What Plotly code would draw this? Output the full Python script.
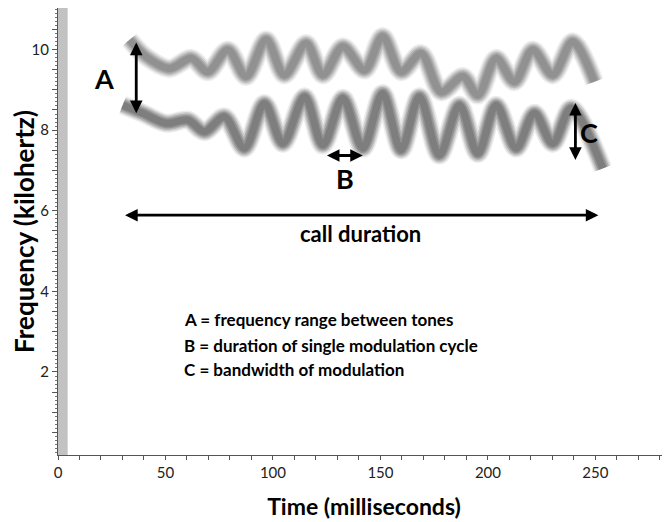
import plotly.graph_objects as go

# upper tone (time ms, frequency kHz) read at peaks/troughs
upper_t = [33.3, 41, 51.9, 62, 69.7, 79, 87.5, 96.8, 105.3, 115.4, 123.2, 132.5, 142.6, 151, 159.6, 168.9, 178.2, 188.3, 195.3, 203.8, 212.3, 220.8, 230.1, 239.4, 249.5]
upper_f = [10.24, 9.82, 9.53, 9.78, 9.45, 9.99, 9.33, 10.24, 9.37, 10.15, 9.37, 10.07, 9.49, 10.32, 9.45, 9.9, 8.95, 9.33, 8.87, 9.78, 9.2, 9.99, 9.37, 10.19, 9.2]

# lower tone
lower_t = [30.1, 39.4, 50.3, 60.4, 68.1, 77.4, 86.7, 96, 104.6, 114.7, 123.2, 132.5, 141.8, 151, 159.6, 168.1, 177.4, 186.7, 195.3, 203.8, 213.1, 221.6, 230.1, 238.7, 253.4]
lower_f = [8.62, 8.42, 8.17, 8.25, 7.96, 8.33, 7.55, 8.66, 7.67, 8.83, 7.63, 8.79, 7.55, 8.91, 7.51, 8.83, 7.38, 8.62, 7.42, 8.62, 7.55, 8.42, 7.67, 8.54, 7.05]

legend_lines = ["A = frequency range between tones",
                "B = duration of single modulation cycle",
                "C = bandwidth of modulation"]
legend_y = [3.29, 2.65, 2.05]

FONT = "Lato, Open Sans, sans-serif"

fig = go.Figure()

# blurred spectrogram strokes (layered translucent lines)
layers = [(19, 0.12), (16, 0.2), (13, 0.28), (10, 0.36), (7, 0.38)]
for t, f, g in [(upper_t, upper_f, 118), (lower_t, lower_f, 95)]:
    for w, a in layers:
        fig.add_trace(go.Scatter(x=t, y=f, mode="lines",
                                 line=dict(color=f"rgba({g},{g},{g},{a})", width=w,
                                           shape="spline", smoothing=0.9),
                                 hoverinfo="skip", showlegend=False))

# gray band at left edge
fig.add_shape(type="rect", x0=0, x1=4.5, y0=-0.06, y1=11.03, xref="x", yref="y",
              fillcolor="#c2c2c2", line=dict(width=0), layer="below")

arrow_kw = dict(xref="x", yref="y", axref="x", ayref="y", text="", showarrow=True,
                arrowhead=2, arrowsize=0.9, arrowwidth=2.8, arrowcolor="black",
                arrowside="end+start")
fig.add_annotation(x=36.4, y=8.42, ax=36.4, ay=10.21, **arrow_kw)       # A
fig.add_annotation(x=240.7, y=7.26, ax=240.7, ay=8.71, **arrow_kw)      # C
fig.add_annotation(x=141.8, y=7.37, ax=124.4, ay=7.37, **arrow_kw)      # B
fig.add_annotation(x=251.4, y=5.89, ax=30.5, ay=5.89, **arrow_kw)       # call duration

lab_font = dict(family=FONT, size=27, color="black")
fig.add_annotation(x=21.4, y=9.29, text="<b>A</b>", showarrow=False, font=lab_font)
fig.add_annotation(x=133.3, y=6.81, text="<b>B</b>", showarrow=False, font=lab_font)
fig.add_annotation(x=247.2, y=7.93, text="<b>C</b>", showarrow=False, font=lab_font)
fig.add_annotation(x=140.9, y=5.44, text="<b>call duration</b>", showarrow=False,
                   font=dict(family=FONT, size=22, color="black"))

for txt, yy in zip(legend_lines, legend_y):
    fig.add_annotation(x=57.9, y=yy, text=f"<b>{txt}</b>", showarrow=False, xanchor="left",
                       font=dict(family=FONT, size=17, color="black"))

y_ticks = [i * 0.5 for i in range(1, 22)]
y_text = [str(int(v)) if v in (2, 4, 6, 8, 10) else "" for v in y_ticks]

fig.update_layout(
    width=662, height=514,
    margin=dict(l=50, r=0, t=0, b=67),
    plot_bgcolor="white", paper_bgcolor="white",
    showlegend=False,
    xaxis=dict(range=[0, 284.7], tickvals=[0, 50, 100, 150, 200, 250],
               ticks="outside", ticklen=4, tickcolor="#555", showgrid=False, zeroline=False,
               showline=True, linecolor="#555", linewidth=1, automargin=False,
               minor=dict(dtick=10, ticks="outside", ticklen=4, tickcolor="#555"),
               tickfont=dict(family=FONT, size=15, color="#222"),
               title=dict(text="<b>Time (milliseconds)</b>", standoff=18,
                          font=dict(family=FONT, size=23, color="black"))),
    yaxis=dict(range=[-0.06, 11.03], tickvals=y_ticks, ticktext=y_text,
               ticks="outside", ticklen=5, tickcolor="#555", showgrid=False, zeroline=False,
               showline=True, linecolor="#555", linewidth=1, automargin=False,
               minor=dict(dtick=0.1, ticks="outside", ticklen=2, tickcolor="#777"),
               tickfont=dict(family=FONT, size=15, color="#222"),
               title=dict(text="<b>Frequency (kilohertz)</b>", standoff=8,
                          font=dict(family=FONT, size=26, color="black"))),
)

fig.write_html("out.html")
